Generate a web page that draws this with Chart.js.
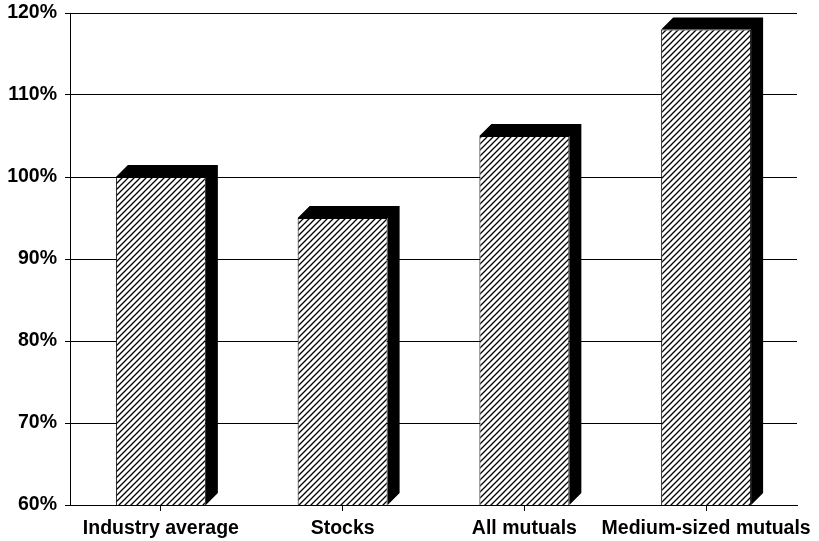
<!DOCTYPE html>
<html>
<head>
<meta charset="utf-8">
<script src="https://cdn.jsdelivr.net/npm/chart.js@4/dist/chart.umd.min.js"></script>
<style>
html,body{margin:0;padding:0;background:#fff;}
#wrap{width:819px;height:541px;position:relative;}
</style>
</head>
<body>
<div id="wrap"><canvas id="c" width="819" height="541"></canvas></div>
<script>
const categories = ["Industry average", "Stocks", "All mutuals", "Medium-sized mutuals"];
const values = [100, 95, 105, 118];
const yTicks = [60, 70, 80, 90, 100, 110, 120];

function makeHatch() {
  const s = 6;
  const c = document.createElement('canvas');
  c.width = s; c.height = s;
  const g = c.getContext('2d');
  g.fillStyle = '#fff';
  g.fillRect(0, 0, s, s);
  g.strokeStyle = '#000';
  g.lineWidth = 1.3;
  g.beginPath();
  g.moveTo(-1, s + 1); g.lineTo(s + 1, -1);
  g.moveTo(-1, 1); g.lineTo(1, -1);
  g.moveTo(s - 1, s + 1); g.lineTo(s + 1, s - 1);
  g.stroke();
  return document.getElementById('c').getContext('2d').createPattern(c, 'repeat');
}

const depth = 12;
const threeD = {
  id: 'threeD',
  afterDatasetsDraw(chart) {
    const ctx = chart.ctx;
    const meta = chart.getDatasetMeta(0);
    const area = chart.chartArea;
    ctx.save();
    ctx.fillStyle = '#000';
    meta.data.forEach(bar => {
      const p = bar.getProps(['x', 'y', 'base', 'width'], true);
      const x0 = p.x - p.width / 2, x1 = p.x + p.width / 2;
      const top = p.y, bot = Math.min(p.base, area.bottom);
      ctx.beginPath();
      ctx.moveTo(x0, top);
      ctx.lineTo(x0 + depth, top - depth);
      ctx.lineTo(x1 + depth, top - depth);
      ctx.lineTo(x1 + depth, bot - depth);
      ctx.lineTo(x1, bot);
      ctx.lineTo(x1, top);
      ctx.closePath();
      ctx.fill();
    });
    ctx.restore();
  }
};

const FONT = 'Arial, "Liberation Sans", sans-serif';

new Chart(document.getElementById('c'), {
  type: 'bar',
  data: {
    labels: categories,
    datasets: [{
      data: values,
      backgroundColor: makeHatch(),
      borderColor: '#000',
      borderWidth: 1,
      categoryPercentage: 1,
      barPercentage: 0.495
    }]
  },
  options: {
    responsive: false,
    animation: false,
    layout: { padding: { top: 13, right: 22, left: 0, bottom: 0 } },
    plugins: { legend: { display: false }, tooltip: { enabled: false } },
    scales: {
      y: {
        min: 60, max: 120,
        afterFit(s) { s.width = 70; s.paddingTop = 0; s.paddingBottom = 0; },
        afterBuildTicks(s) { s.ticks = yTicks.map(v => ({ value: v })); },
        ticks: {
          callback: v => v + '%',
          color: '#000',
          padding: 8,
          font: { family: FONT, size: 19.5, weight: 'bold' }
        },
        grid: { color: '#000', lineWidth: 1, tickLength: 5 },
        border: { color: '#000', width: 1 }
      },
      x: {
        afterFit(s) { s.height = 36; s.paddingLeft = 0; s.paddingRight = 0; },
        ticks: {
          color: '#000',
          padding: 6,
          maxRotation: 0,
          minRotation: 0,
          autoSkip: false,
          font: { family: FONT, size: 19.5, weight: 'bold' }
        },
        grid: { offset: false, drawOnChartArea: false, drawTicks: true, tickLength: 6, color: '#000' },
        border: { color: '#000', width: 1 }
      }
    }
  },
  plugins: [threeD]
});
</script>
</body>
</html>
